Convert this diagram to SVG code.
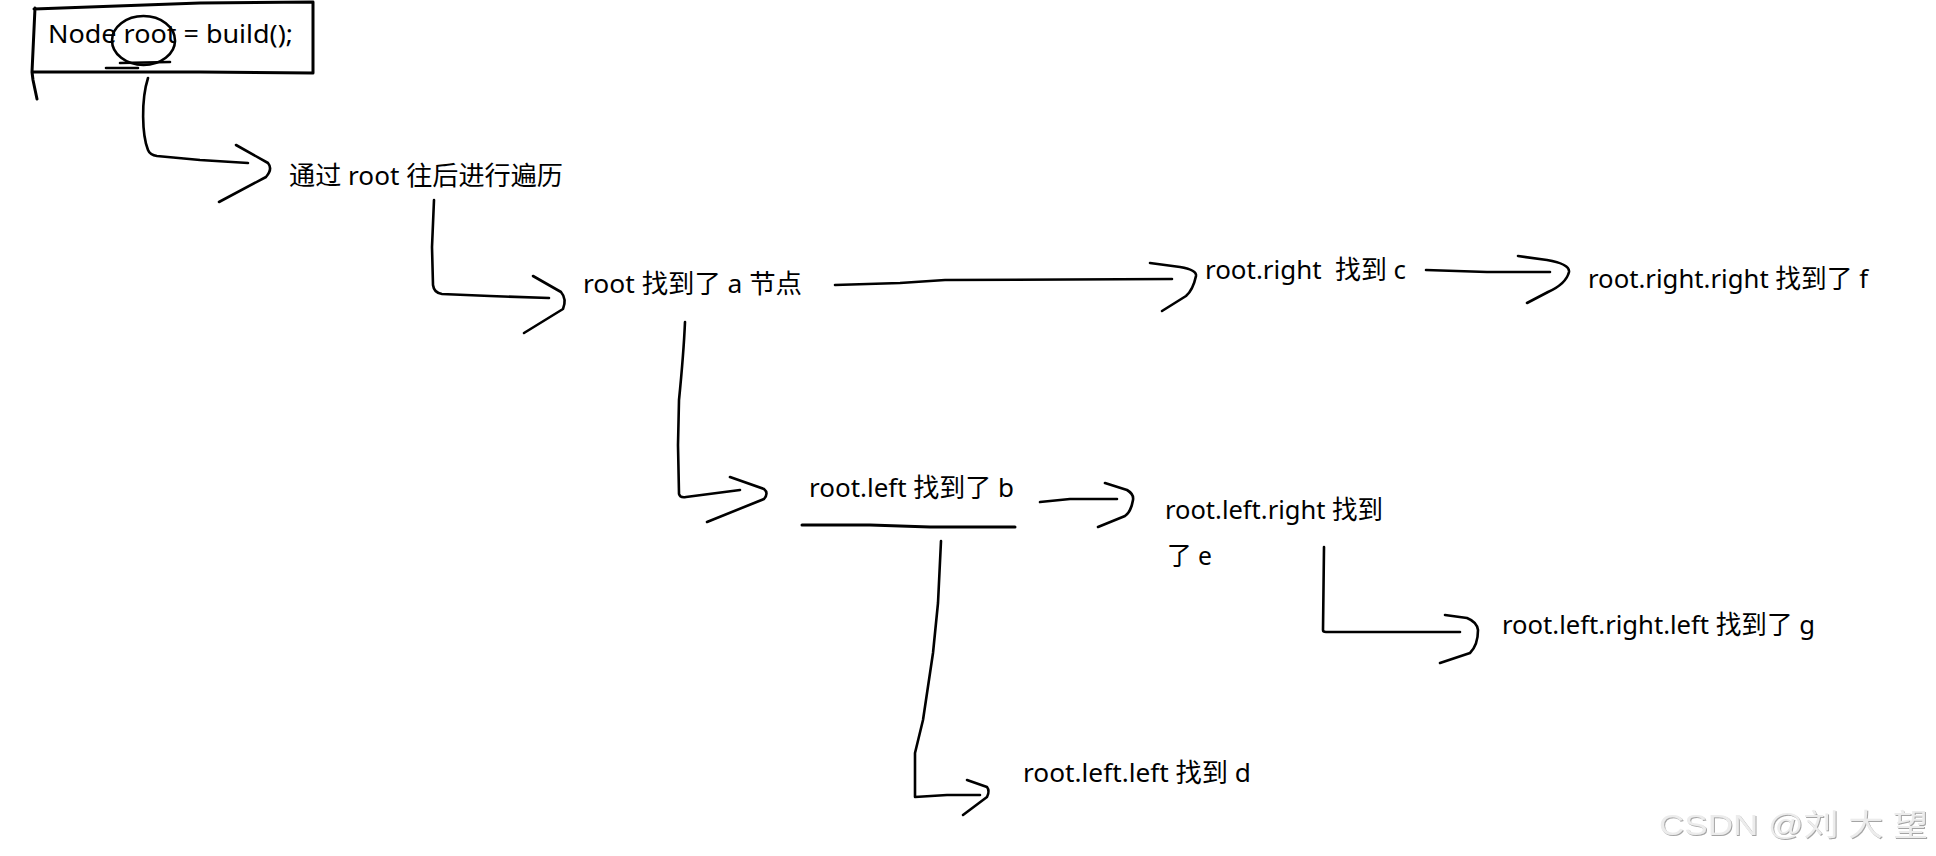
<svg xmlns="http://www.w3.org/2000/svg" width="1936" height="856" viewBox="0 0 1936 856">
<style>
.t{font-family:"Noto Sans","Noto Sans CJK SC",sans-serif;font-size:26px;fill:#000}
.ln{fill:none;stroke:#000;stroke-width:2.6;stroke-linecap:round;stroke-linejoin:round}
.bx{fill:none;stroke:#000;stroke-width:3;stroke-linecap:round;stroke-linejoin:round}
.wm{font-family:"Liberation Sans","Noto Sans CJK SC",sans-serif;font-size:30px;fill:#ececec}
</style>
<defs>
<filter id="emb" x="-5%" y="-20%" width="110%" height="140%">
<feDropShadow dx="1" dy="1" stdDeviation="0.7" flood-color="#9a9a9a" flood-opacity="0.9"/>
</filter>
</defs>
<rect width="1936" height="856" fill="#fff"/>
<g id="connectors">
<path class="ln" d="M148,78 C141,100 142,135 148,150 Q150,155 157,156 L200,160 L248,163"/>
<path class="ln" d="M236,145 L268,163 Q273,169 266,177 L219,202"/>
<path class="ln" d="M434,200 L432,247 L433,285 Q434,293 442,294 L490,296 L549,298"/>
<path class="ln" d="M533,276 L561,292 Q567,299 563,309 L524,333"/>
<path class="ln" d="M835,285 L900,283 L945,280 L1172,279"/>
<path class="ln" d="M1150,263 L1180,267 Q1197,270 1196,276 Q1193,290 1186,296 L1162,311"/>
<path class="ln" d="M1426,270 L1487,272 L1550,272"/>
<path class="ln" d="M1518,256 L1547,260 Q1570,264 1569,272 Q1566,284 1548,292 L1527,303"/>
<path class="ln" d="M685,322 C684,345 681,380 679,400 L678,445 L679,494 Q680,498 686,497 L740,490"/>
<path class="ln" d="M730,477 L764,489 Q769,493 764,499 L707,522"/>
<path class="ln" d="M1040,502 L1070,499 L1117,499"/>
<path class="ln" d="M1105,483 L1127,490 Q1134,494 1133,500 Q1131,512 1125,516 L1098,527"/>
<path class="ln" d="M1324,547 L1323,630 Q1323,632 1326,632 L1460,632"/>
<path class="ln" d="M1445,615 L1467,618 Q1477,622 1478,630 Q1478,645 1470,653 L1440,663"/>
<path class="ln" d="M941,541 L938,603 L933,653 L923,720 L915,753 L915,797 L947,795 L980,795"/>
<path class="ln" d="M967,780 L987,787 Q990,791 987,797 L963,815"/>
</g>
<g id="node-root">
<path class="bx" d="M34,9 L200,3 L313,2 L313,73 M32,72 L200,72 L313,73 M35,8 L32,72 L33,80 L37,99"/>
<text class="t" x="48" y="43" textLength="245" lengthAdjust="spacingAndGlyphs">Node root = build();</text>
<ellipse class="ln" cx="143.5" cy="40.5" rx="31.5" ry="24.5"/>
<path class="ln" d="M106,68 L138,68 M120,63 L170,62"/>
</g>
<g id="node-traverse">
<text class="t" x="289" y="185" textLength="274" lengthAdjust="spacingAndGlyphs">通过 root 往后进行遍历</text>
</g>
<g id="node-a">
<text class="t" x="583" y="293" textLength="219" lengthAdjust="spacingAndGlyphs">root 找到了 a 节点</text>
</g>
<g id="node-c">
<text class="t" x="1205" y="279" textLength="201" lengthAdjust="spacingAndGlyphs" xml:space="preserve">root.right  找到 c</text>
</g>
<g id="node-f">
<text class="t" x="1588" y="288" textLength="280" lengthAdjust="spacingAndGlyphs">root.right.right 找到了 f</text>
</g>
<g id="node-b">
<text class="t" x="809" y="497" textLength="205" lengthAdjust="spacingAndGlyphs">root.left 找到了 b</text>
<path class="bx" d="M802,525 L870,525 L930,527 L1015,527"/>
</g>
<g id="node-e">
<text class="t" x="1165" y="519" textLength="218" lengthAdjust="spacingAndGlyphs">root.left.right 找到</text>
<text class="t" x="1167" y="565" textLength="45" lengthAdjust="spacingAndGlyphs">了 e</text>
</g>
<g id="node-g">
<text class="t" x="1502" y="634" textLength="313" lengthAdjust="spacingAndGlyphs">root.left.right.left 找到了 g</text>
</g>
<g id="node-d">
<text class="t" x="1023" y="782" textLength="228" lengthAdjust="spacingAndGlyphs">root.left.left 找到 d</text>
</g>
<text class="wm" x="1659" y="835" textLength="269" lengthAdjust="spacingAndGlyphs" filter="url(#emb)">CSDN @刘 大 望</text>
</svg>
